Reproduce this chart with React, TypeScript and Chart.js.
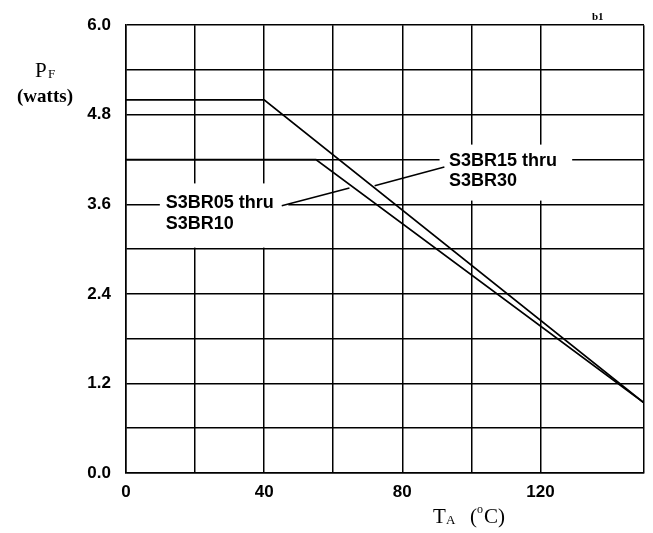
import React, { useEffect, useRef } from "react";
import { Chart, registerables } from "chart.js";

Chart.register(...registerables);

// Temperature (°C) and power (W) break points for each device group
const s3br15x = [0, 40, 150];
const s3br15y = [5.0, 5.0, 0.94];
const s3br05x = [0, 55, 150];
const s3br05y = [4.2, 4.2, 0.94];

const xLabeledTicks = [0, 40, 80, 120];
const yLabeledTicks = [0.0, 1.2, 2.4, 3.6, 4.8, 6.0];

const label1Lines = ["S3BR15 thru", "S3BR30"];
const label2Lines = ["S3BR05 thru", "S3BR10"];

const SANS = "'Liberation Sans', Arial, Helvetica, sans-serif";
const SERIF = "'Liberation Serif', 'Times New Roman', serif";

export default function App() {
  const canvasRef = useRef<HTMLCanvasElement | null>(null);

  useEffect(() => {
    const canvas = canvasRef.current;
    if (!canvas) return;

    const annotations = {
      id: "annotations",
      afterDatasetsDraw(chart: any) {
        const ctx = chart.ctx as CanvasRenderingContext2D;
        const xs = chart.scales.x;
        const ys = chart.scales.y;
        const px = (v: number) => xs.getPixelForValue(v);
        const py = (v: number) => ys.getPixelForValue(v);

        const box = (x0: number, x1: number, y0: number, y1: number) => {
          ctx.fillStyle = "#fff";
          ctx.fillRect(px(x0), py(y0), px(x1) - px(x0), py(y1) - py(y0));
        };
        const line = (x0: number, y0: number, x1: number, y1: number) => {
          ctx.beginPath();
          ctx.moveTo(px(x0), py(y0));
          ctx.lineTo(px(x1), py(y1));
          ctx.strokeStyle = "#000";
          ctx.lineWidth = 1.5;
          ctx.stroke();
        };
        const text = (lines: string[], x: number, y: number) => {
          ctx.fillStyle = "#000";
          ctx.font = `bold 18px ${SANS}`;
          ctx.textAlign = "left";
          ctx.textBaseline = "middle";
          lines.forEach((l, i) => ctx.fillText(l, px(x), py(y) + 1 + i * 20.5));
        };

        ctx.save();
        // label for S3BR15 thru S3BR30
        box(90.8, 129.2, 4.4, 3.65);
        text(label1Lines, 93.5, 4.2);
        line(92.2, 4.1, 72.0, 3.85);
        // label for S3BR05 thru S3BR10
        box(9.8, 47.0, 3.88, 3.02);
        text(label2Lines, 11.5, 3.63);
        line(45.1, 3.58, 64.7, 3.82);
        ctx.restore();
      },
      afterDraw(chart: any) {
        const ctx = chart.ctx as CanvasRenderingContext2D;
        const a = chart.chartArea;
        ctx.save();
        ctx.fillStyle = "#000";
        ctx.textBaseline = "alphabetic";
        ctx.textAlign = "left";
        // y axis title: P_F (watts)
        ctx.font = `21px ${SERIF}`;
        ctx.fillText("P", a.left - 91, a.top + 52);
        ctx.font = `13px ${SERIF}`;
        ctx.fillText("F", a.left - 78, a.top + 53);
        ctx.font = `bold 19px ${SERIF}`;
        ctx.textAlign = "center";
        ctx.fillText("(watts)", a.left - 81, a.top + 77);
        // x axis title: T_A (°C)
        ctx.textAlign = "left";
        ctx.font = `21px ${SERIF}`;
        ctx.fillText("T", a.left + 307, a.bottom + 50);
        ctx.font = `13px ${SERIF}`;
        ctx.fillText("A", a.left + 320, a.bottom + 51);
        ctx.font = `21px ${SERIF}`;
        ctx.fillText("(", a.left + 344, a.bottom + 50);
        ctx.font = `12px ${SERIF}`;
        ctx.fillText("o", a.left + 351, a.bottom + 40);
        ctx.font = `21px ${SERIF}`;
        ctx.fillText("C)", a.left + 358, a.bottom + 50);
        // corner mark
        ctx.font = `bold 11px ${SERIF}`;
        ctx.fillText("b1", a.left + 466, a.top - 5);
        ctx.restore();
      },
    };

    const near = (v: number, list: number[]) => list.find((t) => Math.abs(t - v) < 1e-6);

    const chart = new Chart(canvas, {
      type: "line",
      data: {
        datasets: [
          {
            label: label1Lines.join(" "),
            data: s3br15x.map((x, i) => ({ x, y: s3br15y[i] })),
            borderColor: "#000",
            borderWidth: 1.8,
            pointRadius: 0,
            tension: 0,
            fill: false,
          },
          {
            label: label2Lines.join(" "),
            data: s3br05x.map((x, i) => ({ x, y: s3br05y[i] })),
            borderColor: "#000",
            borderWidth: 1.8,
            pointRadius: 0,
            tension: 0,
            fill: false,
          },
        ],
      },
      options: {
        animation: false,
        responsive: true,
        maintainAspectRatio: false,
        layout: { padding: { top: 24, right: 8, left: 0, bottom: 0 } },
        plugins: { legend: { display: false }, tooltip: { enabled: false } },
        scales: {
          x: {
            type: "linear",
            min: 0,
            max: 150,
            afterFit: (s: any) => {
              s.height = 60;
            },
            ticks: {
              stepSize: 20,
              autoSkip: false,
              maxRotation: 0,
              padding: 9,
              color: "#000",
              font: { family: SANS, size: 17, weight: "bold" },
              callback: (v: any) => {
                const t = near(Number(v), xLabeledTicks);
                return t === undefined ? "" : String(t);
              },
            },
            grid: { color: "#000", lineWidth: 1.5, drawTicks: false },
            border: { color: "#000", width: 1.5 },
          },
          y: {
            type: "linear",
            min: 0,
            max: 6,
            afterFit: (s: any) => {
              s.width = 126;
            },
            ticks: {
              stepSize: 0.6,
              autoSkip: false,
              padding: 15,
              color: "#000",
              font: { family: SANS, size: 17, weight: "bold" },
              callback: (v: any) => {
                const t = near(Number(v), yLabeledTicks);
                return t === undefined ? "" : t.toFixed(1);
              },
            },
            grid: { color: "#000", lineWidth: 1.5, drawTicks: false },
            border: { color: "#000", width: 1.5 },
          },
        },
      },
      plugins: [annotations],
    });

    return () => chart.destroy();
  }, []);

  return (
    <div style={{ position: "fixed", left: 0, top: 0, width: 653, height: 533, background: "#fff" }}>
      <canvas ref={canvasRef} />
    </div>
  );
}
